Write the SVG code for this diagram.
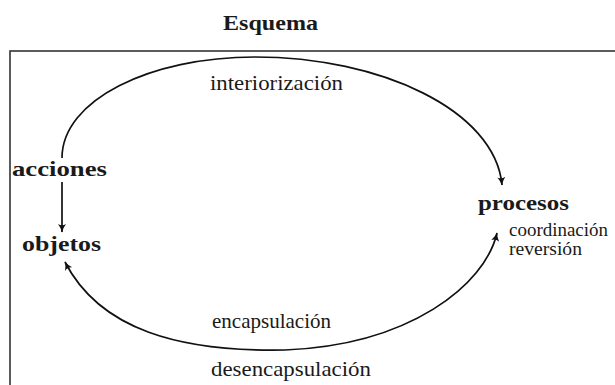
<svg xmlns="http://www.w3.org/2000/svg" width="615" height="385" viewBox="0 0 615 385">
<style>
  text { font-family: "Liberation Serif", "Times New Roman", serif; fill: #1a1a1a; }
  .b { font-weight: bold; font-size: 21px; }
  .r { font-size: 21px; }
  .s { font-size: 18px; }
  .edge { fill: none; stroke: #111; stroke-width: 1.7; }
</style>
<defs>
  <marker id="ah" viewBox="-10 -5 12 10" refX="0" refY="0" markerWidth="12" markerHeight="10" markerUnits="userSpaceOnUse" orient="auto-start-reverse">
    <path d="M 0.5 0 Q -4 -1 -8 -4 Q -5.5 0 -8 4 Q -4 1 0.5 0 Z" fill="#111"/>
  </marker>
</defs>
<rect width="615" height="385" fill="#ffffff"/>
<text class="b" x="223" y="30" textLength="95" lengthAdjust="spacingAndGlyphs">Esquema</text>
<rect x="10" y="51" width="700" height="400" fill="none" stroke="#333" stroke-width="1.6"/>
<g id="connectors">
  <path class="edge" d="M 62 158 C 62 100 150 57 255 57 C 380 57 495 110 502 185" marker-end="url(#ah)"/>
  <path class="edge" d="M 62 182 L 62 232" marker-end="url(#ah)"/>
  <path class="edge" d="M 65 262 C 100 330 180 352 285 350 C 410 345 485 285 497 233" marker-start="url(#ah)" marker-end="url(#ah)"/>
  <text class="r" x="210" y="90" textLength="133" lengthAdjust="spacingAndGlyphs">interiorización</text>
  <text class="r" x="212" y="328" textLength="119" lengthAdjust="spacingAndGlyphs">encapsulación</text>
  <text class="r" x="211" y="376" textLength="160" lengthAdjust="spacingAndGlyphs">desencapsulación</text>
</g>
<g id="acciones"><text class="b" x="12" y="176" textLength="95" lengthAdjust="spacingAndGlyphs">acciones</text></g>
<g id="objetos"><text class="b" x="22" y="251" textLength="79" lengthAdjust="spacingAndGlyphs">objetos</text></g>
<g id="procesos">
  <text class="b" x="478" y="210" textLength="91" lengthAdjust="spacingAndGlyphs">procesos</text>
  <text class="s" x="509" y="236" textLength="99" lengthAdjust="spacingAndGlyphs">coordinación</text>
  <text class="s" x="509" y="255" textLength="73" lengthAdjust="spacingAndGlyphs">reversión</text>
</g>
</svg>
